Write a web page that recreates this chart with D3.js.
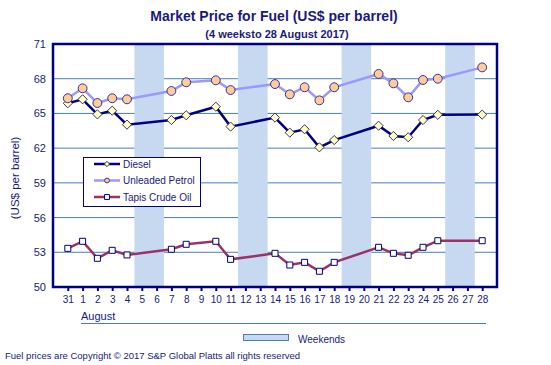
<!DOCTYPE html>
<html><head><meta charset="utf-8">
<script src="https://cdn.jsdelivr.net/npm/d3@7"></script>
<style>body{margin:0;background:#fff}svg{display:block;font-family:"Liberation Sans",Arial,sans-serif}</style>
</head><body><svg id="c" width="551" height="365"></svg>
<script>
const categories = ["31","1","2","3","4","5","6","7","8","9","10","11","12","13","14","15","16","17","18","19","20","21","22","23","24","25","26","27","28"];
const diesel   = [65.88,66.22,64.92,65.24,64.03,null,null,64.43,64.84,null,65.58,63.86,null,null,64.64,63.34,63.63,62.07,62.70,null,null,63.94,63.05,62.94,64.43,64.88,null,null,64.90];
const unleaded = [66.31,67.17,65.90,66.31,66.22,null,null,66.94,67.69,null,67.86,67.02,null,null,67.54,66.65,67.26,66.13,67.26,null,null,68.41,67.60,66.39,67.89,68.00,null,null,68.98];
const tapis    = [53.34,53.95,52.48,53.17,52.77,null,null,53.26,53.69,null,53.95,52.39,null,null,52.91,51.90,52.13,51.36,52.13,null,null,53.43,52.91,52.74,53.43,54.00,null,null,54.00];
const weekends = [["5","6"],["12","13"],["19","20"],["26","27"]];
const yTicks = [50,53,56,59,62,65,68,71];
const seriesNames = ["Diesel","Unleaded Petrol","Tapis Crude Oil"];

const svg = d3.select("#c");
const L=53,R=497,T=44,B=287;
const x = d3.scalePoint().domain(categories).range([L,R]).padding(1);
const y = d3.scaleLinear().domain([50,71]).range([B,T]);
const step = x.step();
const navy="#000080", txt="#1a1a7e";

// square diamond symbol
const symbolRhomb = {draw(ctx,size){const r=Math.sqrt(size/2);ctx.moveTo(0,-r);ctx.lineTo(r,0);ctx.lineTo(0,r);ctx.lineTo(-r,0);ctx.closePath();}};

// title
svg.append("text").attr("x",274).attr("y",21).attr("text-anchor","middle").attr("font-size",14).attr("font-weight","bold").attr("fill",txt).text("Market Price for Fuel (US$ per barrel)");
svg.append("text").attr("x",277).attr("y",38).attr("text-anchor","middle").attr("font-size",11).attr("font-weight","bold").attr("fill",txt).text("(4 weeksto 28 August 2017)");

// gridlines
svg.append("g").selectAll("line").data(yTicks.filter(t=>t>50&&t<71)).join("line")
  .attr("x1",L).attr("x2",R).attr("y1",d=>y(d)).attr("y2",d=>y(d)).attr("stroke","#4a7ebb").attr("stroke-width",1);

// weekend bands
svg.append("g").selectAll("rect").data(weekends).join("rect")
  .attr("x",d=>x(d[0])-step/2).attr("width",d=>x(d[1])-x(d[0])+step)
  .attr("y",T).attr("height",B-T).attr("fill","#c6d9f0");

// frame
svg.append("rect").attr("x",L).attr("y",T).attr("width",R-L).attr("height",B-T).attr("fill","none").attr("stroke",navy).attr("stroke-width",2.5);

// y axis labels
svg.append("g").selectAll("text").data(yTicks).join("text")
  .attr("x",46).attr("y",d=>y(d)+4).attr("text-anchor","end").attr("font-size",11).attr("fill",txt).text(d=>d);
svg.append("text").attr("transform","translate(19,178) rotate(-90)").attr("text-anchor","middle").attr("font-size",11.5).attr("fill",txt).text("(US$ per barrel)");

// x axis ticks and labels
const xa = d3.axisBottom(x).tickSize(4).tickSizeOuter(0);
const gx = svg.append("g").attr("transform",`translate(0,${B})`).call(xa);
gx.select(".domain").remove();
gx.selectAll(".tick line").attr("stroke",navy).attr("stroke-width",2);
gx.selectAll(".tick text").attr("font-size",10).attr("fill",txt).attr("font-family","'Liberation Sans',Arial,sans-serif").attr("dy","0.9em");

svg.append("text").attr("x",81).attr("y",320).attr("font-size",11).attr("fill",txt).text("August");
svg.append("line").attr("x1",81).attr("x2",486).attr("y1",323.5).attr("y2",323.5).attr("stroke","#4a7ebb").attr("stroke-width",1.2);

// series
const styles = [
  {data:diesel, line:navy, sym:symbolRhomb, size:42, fill:"#ffffc0", stroke:"#333366", lsize:14},
  {data:unleaded, line:"#9999ff", sym:d3.symbolCircle, size:62, fill:"#ffcc99", stroke:"#33339a", lsize:18},
  {data:tapis, line:"#993366", sym:d3.symbolSquare, size:36, fill:"#ffffff", stroke:navy, lsize:24}
];
const line = d3.line().x(d=>x(d.c)).y(d=>y(d.v));
styles.forEach(s=>{
  const pts = categories.map((c,i)=>({c,v:s.data[i]})).filter(d=>d.v!=null);
  svg.append("path").datum(pts).attr("d",line).attr("fill","none").attr("stroke",s.line).attr("stroke-width",2.5);
  svg.append("g").selectAll("path").data(pts).join("path")
    .attr("transform",d=>`translate(${x(d.c)},${y(d.v)})`)
    .attr("d",d3.symbol(s.sym,s.size)).attr("fill",s.fill).attr("stroke",s.stroke).attr("stroke-width",1);
});

// legend
const lg = svg.append("g");
lg.append("rect").attr("x",83.5).attr("y",157.5).attr("width",117).attr("height",49).attr("fill","#fff").attr("stroke",navy).attr("stroke-width",1);
seriesNames.forEach((n,i)=>{
  const yy = 164+i*16.5, s=styles[i];
  lg.append("line").attr("x1",94).attr("x2",120).attr("y1",yy).attr("y2",yy).attr("stroke",s.line).attr("stroke-width",2.5);
  lg.append("path").attr("transform",`translate(107,${yy})`).attr("d",d3.symbol(s.sym,s.lsize)).attr("fill",s.fill).attr("stroke",s.stroke).attr("stroke-width",1);
  lg.append("text").attr("x",123).attr("y",yy+3.5).attr("font-size",10).attr("fill",txt).text(n);
});

// weekends legend
svg.append("rect").attr("x",243.5).attr("y",334.5).attr("width",45).attr("height",6).attr("fill","#c6d9f0").attr("stroke","#4a7ebb").attr("stroke-width",1);
svg.append("text").attr("x",298).attr("y",343).attr("font-size",10).attr("fill",txt).text("Weekends");

// footer
svg.append("text").attr("x",5).attr("y",359).attr("font-size",9.5).attr("fill",txt).text("Fuel prices are Copyright \u00A9 2017  S&P Global  Platts all rights  reserved");
</script></body></html>
